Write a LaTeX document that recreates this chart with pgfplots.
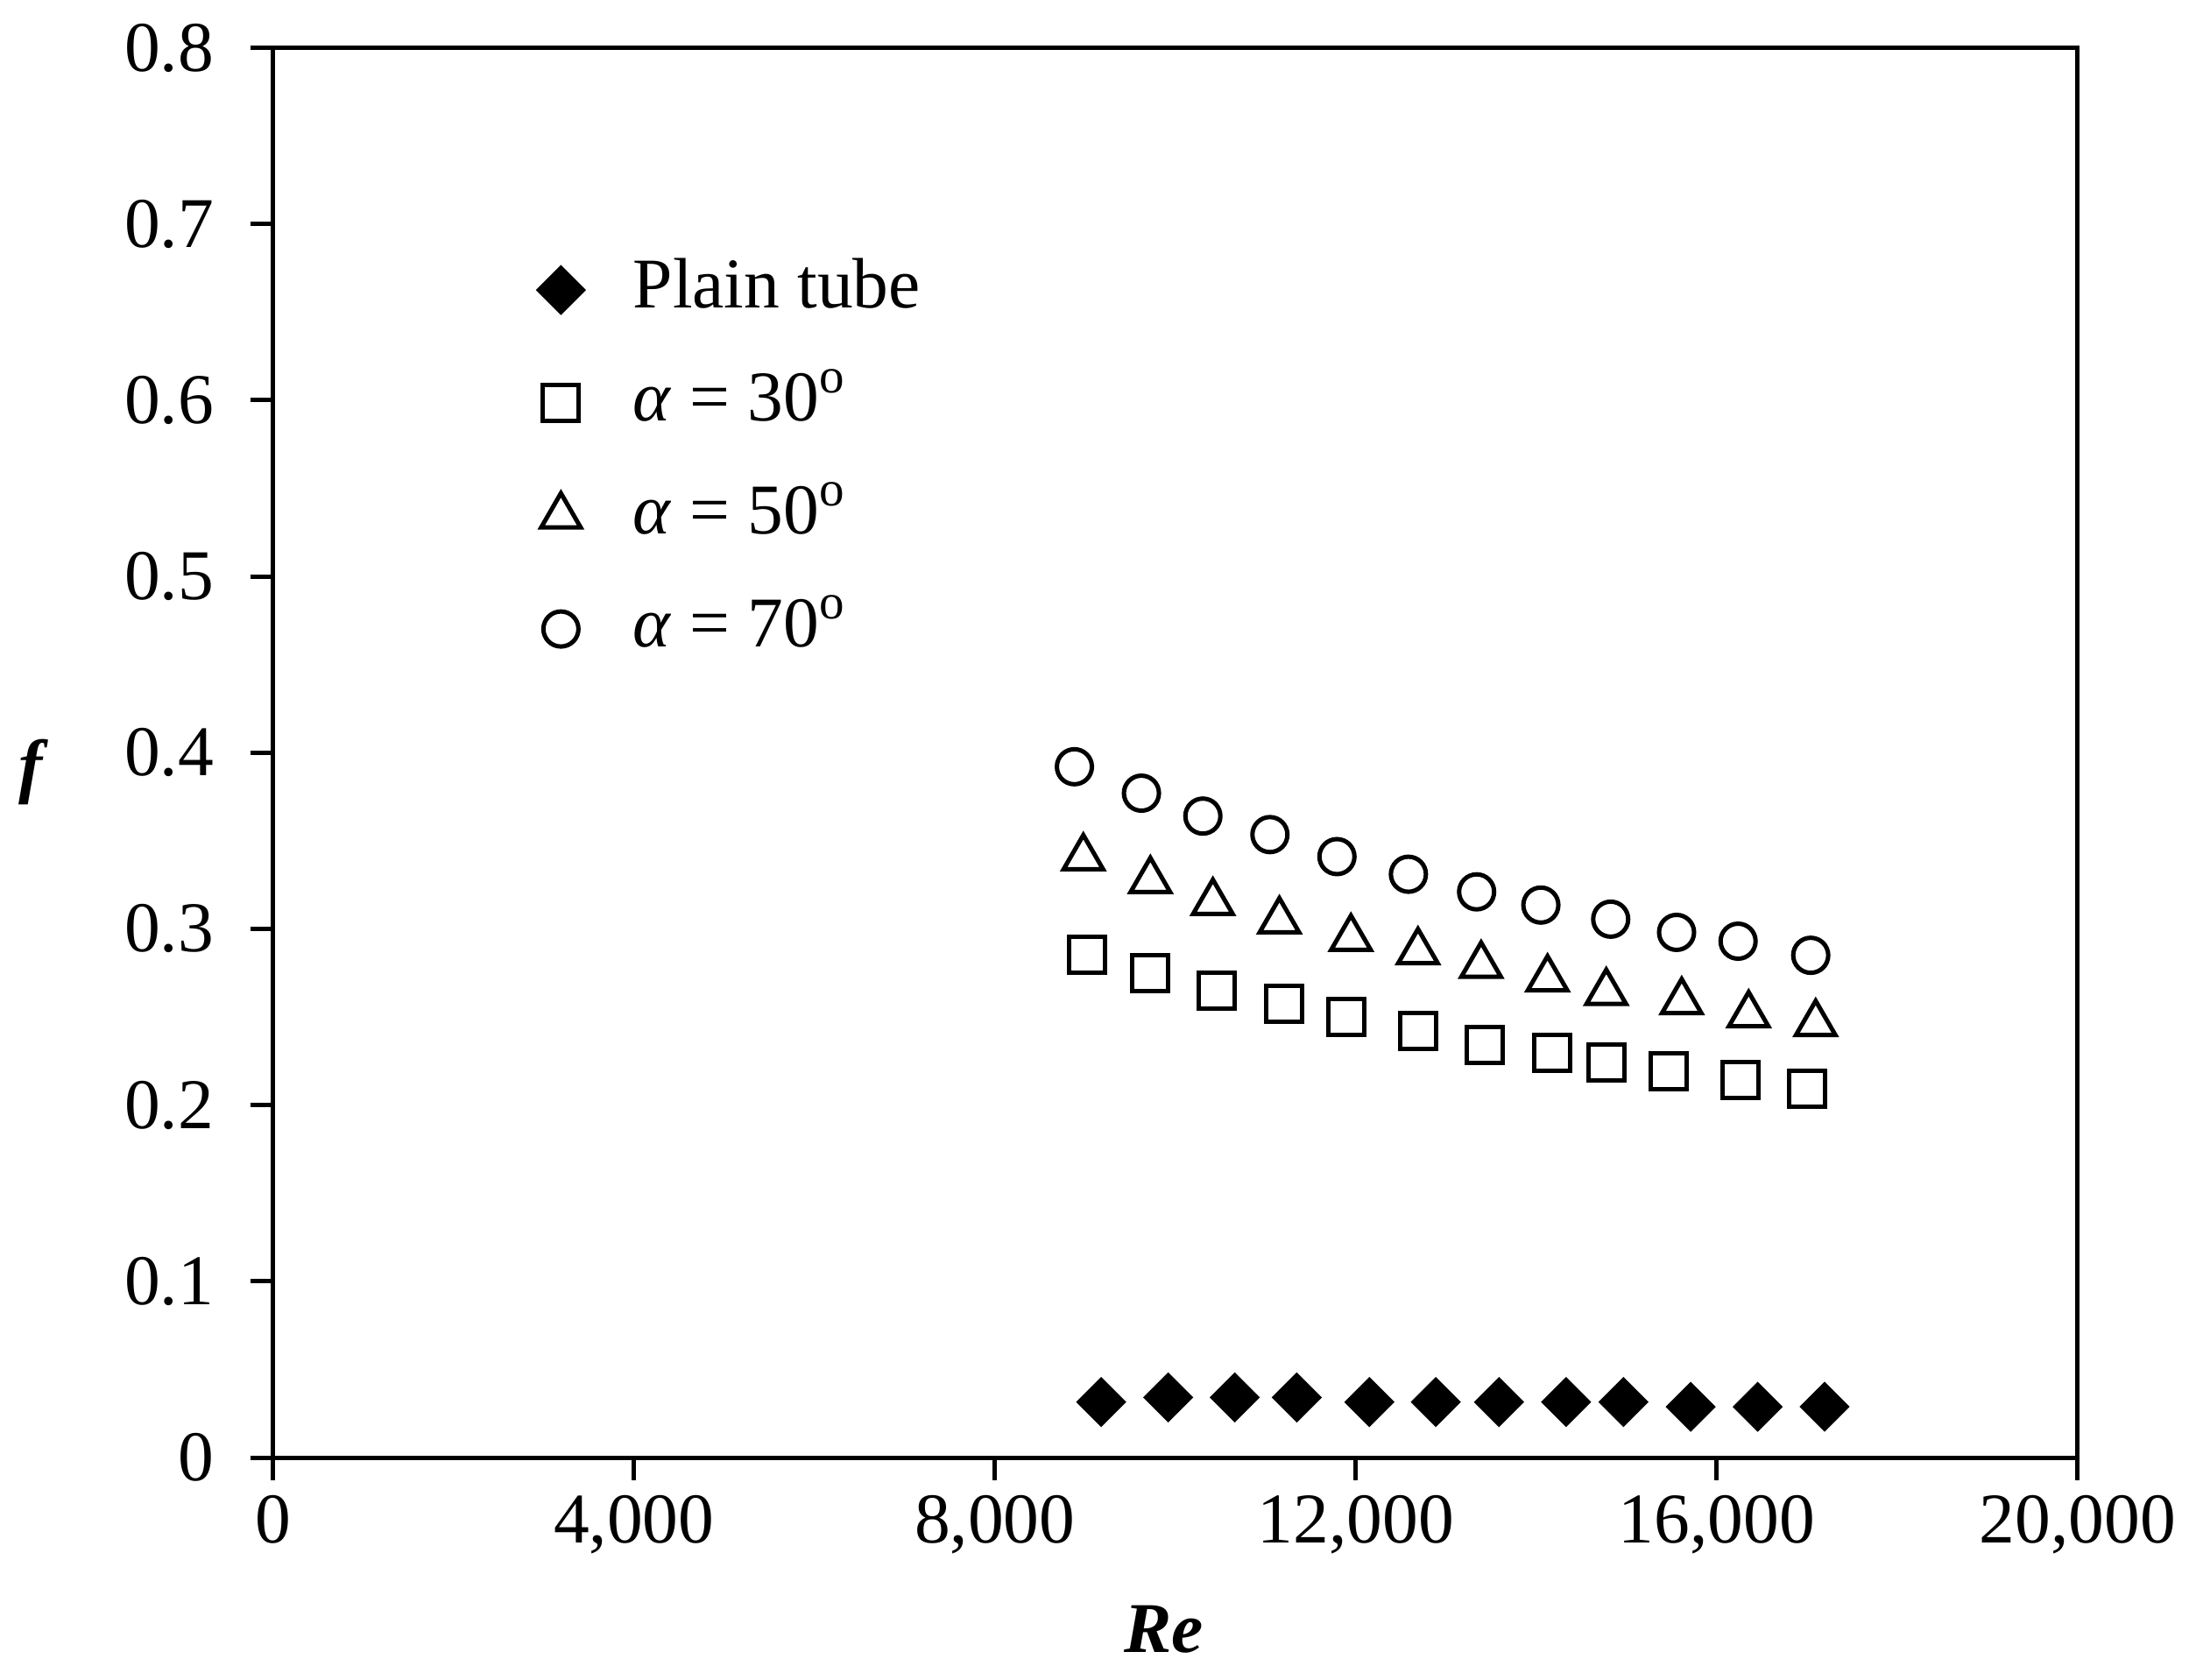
\documentclass[border=0pt]{standalone}
\usepackage{fontspec}
\setmainfont{Liberation Serif}
\usepackage{pgfplots}
\pgfplotsset{compat=1.18}
\newcommand{\fs}{\fontsize{16.3}{19.5}\selectfont}
\begin{document}
\begin{tikzpicture}[font=\fs]
\path[use as bounding box] (-62.34pt,-50.6pt) rectangle (437.46pt,332.8pt);
\begin{axis}[
  at={(0,0)}, anchor=south west,
  scale only axis, width=412pt, height=321.9pt,
  xmin=0, xmax=20000, ymin=0, ymax=0.8,
  xtick={0,4000,8000,12000,16000,20000},
  ytick={0,0.1,0.2,0.3,0.4,0.5,0.6,0.7,0.8},
  scaled x ticks=false,
  tick align=outside, xtick pos=bottom, ytick pos=left,
  major tick length=5.2pt,
  axis line style={line width=1pt},
  every tick/.style={black, line width=1pt},
  /pgf/number format/assume math mode=true,
  tick label style={font=\fs},
  x tick label style={/pgf/number format/.cd, 1000 sep={,}},
  y tick label style={xshift=-4.8pt, /pgf/number format/.cd, fixed, precision=1},
  xlabel={\textbf{\textit{Re}}},
  ylabel={\textbf{\textit{f}}},
  every axis x label/.style={at={(rel axis cs:0.4936,0)}, yshift=-39.2pt, anchor=center, font=\fs},
  every axis y label/.style={at={(rel axis cs:0,0.4865)}, xshift=-54.6pt, anchor=center, font=\fs},
  legend cell align=left,
  legend style={at={(rel axis cs:0.1465,0.853)}, anchor=north west, draw=none, fill=none,
    inner sep=0pt, outer sep=0pt, row sep=9.8pt, column sep=11.1pt, font=\fs,
    nodes={inner sep=0pt, text height=12pt, text depth=4pt}},
]
\addplot[only marks, mark=square*, mark size=3.8pt, mark options={rotate=45, fill=black, draw=black, line width=0.5pt}]
coordinates {
(9179,0.0315) (9922,0.0341) (10659,0.0341) (11347,0.0341) (12151,0.0315) (12888,0.0315)
(13588,0.0315) (14331,0.0315) (14968,0.0315) (15712,0.0288) (16455,0.0288) (17197,0.0288)
};
\addlegendentry{Plain tube}
\addplot[only marks, mark=square, mark size=4.1pt, mark options={draw=black, line width=1pt}]
coordinates {
(9024,0.2851) (9724,0.2751) (10461,0.2650) (11204,0.2573) (11897,0.2499) (12690,0.2421)
(13433,0.2342) (14176,0.2294) (14777,0.2243) (15464,0.2191) (16262,0.2141) (17006,0.2092)
};
\addlegendentry{\textit{α} = 30\textsuperscript{o}}
\addplot[only marks, mark=triangle, mark size=5.2pt, mark options={draw=black, line width=1pt}]
coordinates {
(8981,0.3403) (9724,0.3274) (10417,0.3150) (11154,0.3045) (11947,0.2946) (12690,0.2870)
(13390,0.2793) (14126,0.2716) (14777,0.2639) (15613,0.2586) (16355,0.2512) (17098,0.2462)
};
\addlegendentry{\textit{α} = 50\textsuperscript{o}}
\addplot[only marks, mark=o, mark size=4.0pt, mark options={draw=black, line width=1pt}]
coordinates {
(8882,0.3920) (9625,0.3770) (10306,0.3640) (11049,0.3535) (11792,0.3410) (12584,0.3310)
(13340,0.3210) (14052,0.3135) (14826,0.3055) (15556,0.2980) (16238,0.2930) (17043,0.2850)
};
\addlegendentry{\textit{α} = 70\textsuperscript{o}}
\end{axis}
\end{tikzpicture}
\end{document}
